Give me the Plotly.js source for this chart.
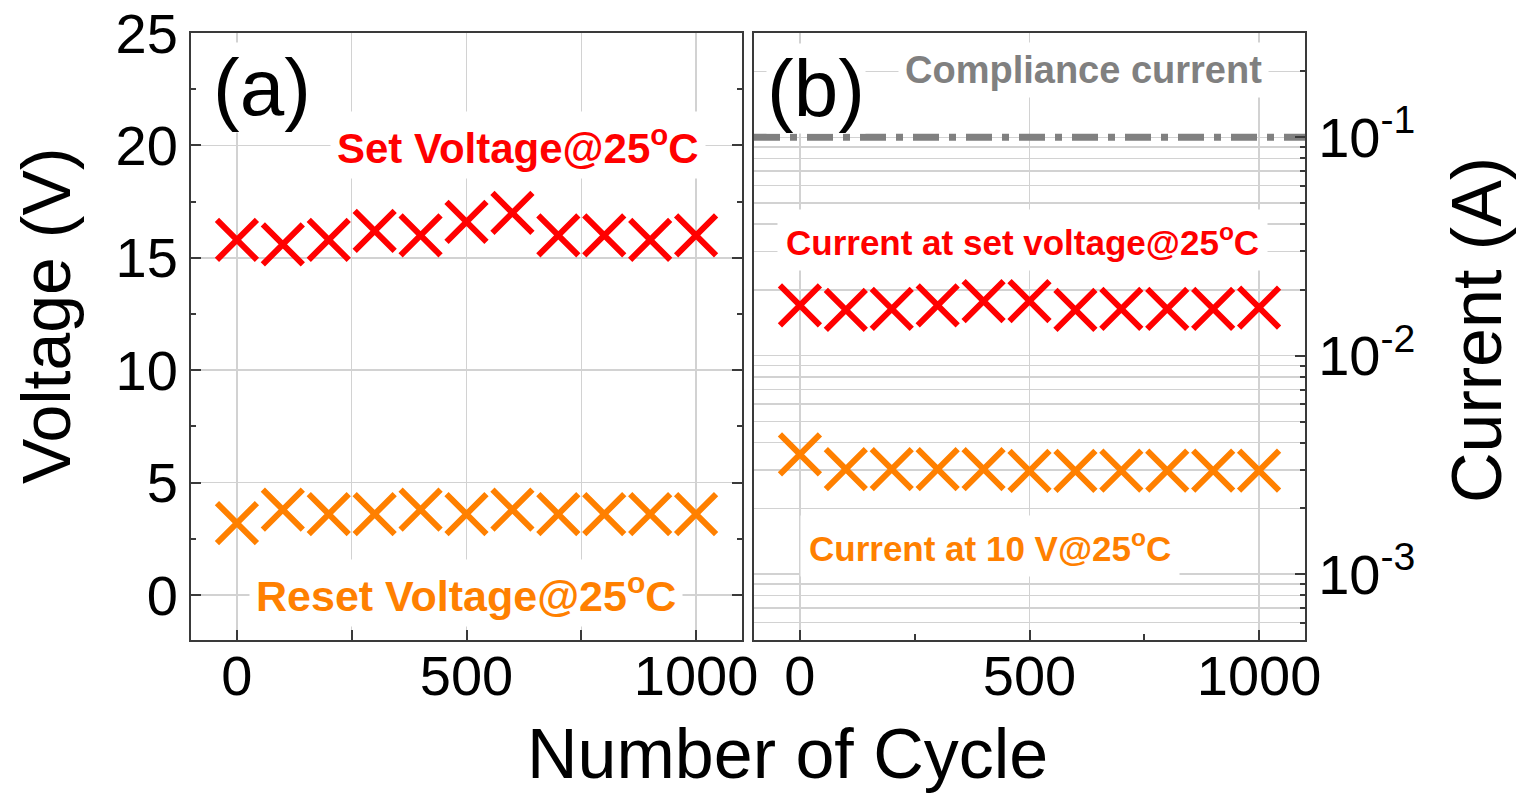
<!DOCTYPE html>
<html>
<head>
<meta charset="utf-8">
<script src="https://cdn.plot.ly/plotly-3.0.1.min.js"></script>
<style>
  html, body { margin: 0; padding: 0; background: #fff; }
  #chart { width: 1531px; height: 794px; }
</style>
</head>
<body>
<div id="chart"></div>
<script>
// Switching cycles sampled every 100 cycles
const cycles = [0, 100, 200, 300, 400, 500, 600, 700, 800, 900, 1000];

// (a) switching voltages at 25 °C (V)
const setVoltage   = [15.8, 15.6, 15.8, 16.2, 16.0, 16.6, 17.0, 16.0, 16.0, 15.8, 16.0];
const resetVoltage = [3.2, 3.8, 3.6, 3.6, 3.8, 3.6, 3.8, 3.6, 3.6, 3.6, 3.6];

// (b) currents at 25 °C (A)
const setCurrent  = [0.0170, 0.0162, 0.0164, 0.0170, 0.0178, 0.0178, 0.0162, 0.0164, 0.0164, 0.0164, 0.0166];
const readCurrent = [0.00354, 0.00303, 0.00303, 0.00303, 0.00303, 0.00297, 0.00297, 0.00298, 0.00298, 0.00298, 0.00298];
const complianceCurrent = 0.1;

// Axis ticks
const voltageTicks = [0, 5, 10, 15, 20, 25];
const cycleTicks = [0, 500, 1000];
const cycleLabels = ['0', '500', '1000'];
const cycleMinor = [250, 750];
const currentTicks = [1e-3, 1e-2, 1e-1];
const currentLabels = ['10<sup>-3</sup>', '10<sup>-2</sup>', '10<sup>-1</sup>'];
const decades = [-4, -3, -2, -1];
const digits = [2, 3, 4, 5, 6, 7, 8, 9];

// minor log ticks at 2..9 within each decade
const currentMinor = [];
decades.forEach(d => digits.forEach(k => currentMinor.push(k * Math.pow(10, d))));

const RED = '#FF0000';
const ORANGE = '#FF8000';
const GRAY = '#808080';
const AXIS = '#3a3a3a';
const GRID = '#d2d2d2';
const FONT = 'Liberation Sans, Arial, sans-serif';

function crosses(x, y, color, xa, ya) {
  return {
    x: x, y: y, xaxis: xa, yaxis: ya,
    type: 'scatter', mode: 'markers',
    marker: { symbol: 'x-thin', size: 40, color: color, line: { width: 6, color: color } },
    hoverinfo: 'x+y', showlegend: false
  };
}

const traces = [
  {
    x: [-100, 1100], y: [complianceCurrent, complianceCurrent],
    xaxis: 'x2', yaxis: 'y2', type: 'scatter', mode: 'lines',
    line: { color: GRAY, width: 7, dash: '26px,10px,7px,10px' },
    showlegend: false, hoverinfo: 'y'
  },
  crosses(cycles, setVoltage, RED, 'x', 'y'),
  crosses(cycles, resetVoltage, ORANGE, 'x', 'y'),
  crosses(cycles, setCurrent, RED, 'x2', 'y2'),
  crosses(cycles, readCurrent, ORANGE, 'x2', 'y2')
];

const yDomain = [1 - 640 / 794, 1 - 33 / 794];
const tickFont = { family: FONT, size: 56, color: '#000' };

const commonAxis = {
  showline: true, linecolor: AXIS, linewidth: 2,
  ticks: 'inside', ticklen: 10, tickwidth: 2, tickcolor: AXIS,
  showgrid: true, gridcolor: GRID, gridwidth: 1.5,
  zeroline: false, tickfont: tickFont, automargin: false
};

const layout = {
  width: 1531, height: 794,
  margin: { l: 0, r: 0, t: 0, b: 0 },
  paper_bgcolor: '#fff', plot_bgcolor: '#fff',
  showlegend: false,
  xaxis: Object.assign({}, commonAxis, {
    domain: [191 / 1531, 742 / 1531], anchor: 'y', range: [-100, 1100],
    tickmode: 'array', tickvals: cycleTicks, ticktext: cycleLabels, mirror: true,
    ticklabelstandoff: -14,
    minor: { tickmode: 'array', tickvals: cycleMinor, ticks: 'inside', ticklen: 10, tickwidth: 2, tickcolor: AXIS,
             showgrid: true, gridcolor: GRID, gridwidth: 1.5 }
  }),
  yaxis: Object.assign({}, commonAxis, {
    domain: yDomain, anchor: 'x', range: [-2, 25],
    tickmode: 'array', tickvals: voltageTicks, mirror: 'ticks',
    minor: { dtick: 2.5, ticks: 'inside', ticklen: 5, tickwidth: 2, tickcolor: AXIS, showgrid: false }
  }),
  xaxis2: Object.assign({}, commonAxis, {
    domain: [754 / 1531, 1305 / 1531], anchor: 'y2', range: [-100, 1100],
    tickmode: 'array', tickvals: cycleTicks, ticktext: cycleLabels, mirror: true,
    ticklabelstandoff: -14,
    minor: { tickmode: 'array', tickvals: cycleMinor, ticks: 'inside', ticklen: 6, tickwidth: 2, tickcolor: AXIS, showgrid: false }
  }),
  yaxis2: Object.assign({}, commonAxis, {
    domain: yDomain, anchor: 'x2', type: 'log', side: 'right',
    range: [Math.log10(5e-4), Math.log10(0.3)],
    tickmode: 'array', tickvals: currentTicks, ticktext: currentLabels, mirror: true,
    minor: { tickmode: 'array', tickvals: currentMinor, ticks: 'inside', ticklen: 5, tickwidth: 2, tickcolor: AXIS,
             showgrid: true, gridcolor: GRID, gridwidth: 1.5 }
  }),
  annotations: [
    { text: '(a)', xref: 'x', yref: 'y', x: 54, y: 22.56, showarrow: false, xanchor: 'center', yanchor: 'middle',
      font: { family: FONT, size: 80, color: '#000' }, bgcolor: '#fff', borderpad: 0 },
    { text: '(b)', xref: 'x2', yref: 'y2', x: 35, y: Math.log10(0.168), showarrow: false, xanchor: 'center', yanchor: 'middle',
      font: { family: FONT, size: 80, color: '#000' }, bgcolor: '#fff', borderpad: 0 },
    { text: '<b>Set Voltage@25<sup>o</sup>C</b>', xref: 'x', yref: 'y', x: 613, y: 20.0, showarrow: false,
      xanchor: 'center', yanchor: 'middle',
      font: { family: FONT, size: 42, color: RED }, bgcolor: '#fff', borderpad: 6 },
    { text: '<b>Reset Voltage@25<sup>o</sup>C</b>', xref: 'x', yref: 'y', x: 498, y: 0.1, showarrow: false,
      xanchor: 'center', yanchor: 'middle',
      font: { family: FONT, size: 43, color: ORANGE }, bgcolor: '#fff', borderpad: 6 },
    { text: '<b>Compliance current</b>', xref: 'x2', yref: 'y2', x: 617, y: Math.log10(0.2027), showarrow: false,
      xanchor: 'center', yanchor: 'middle',
      font: { family: FONT, size: 38, color: GRAY }, bgcolor: '#fff', borderpad: 6 },
    { text: '<b>Current at set voltage@25<sup>o</sup>C</b>', xref: 'x2', yref: 'y2', x: 484, y: Math.log10(0.0337), showarrow: false,
      xanchor: 'center', yanchor: 'middle',
      font: { family: FONT, size: 35, color: RED }, bgcolor: '#fff', borderpad: 8 },
    { text: '<b>Current at 10 V@25<sup>o</sup>C</b>', xref: 'x2', yref: 'y2', x: 414, y: Math.log10(0.00134), showarrow: false,
      xanchor: 'center', yanchor: 'middle',
      font: { family: FONT, size: 35, color: ORANGE }, bgcolor: '#fff', borderpad: 8 },
    { text: 'Voltage (V)', xref: 'paper', yref: 'paper', x: 46 / 1531, y: 1 - 316 / 794, textangle: -90,
      xanchor: 'center', yanchor: 'middle',
      showarrow: false, font: { family: FONT, size: 68, color: '#000' } },
    { text: 'Current (A)', xref: 'paper', yref: 'paper', x: 1477 / 1531, y: 1 - 330 / 794, textangle: -90,
      xanchor: 'center', yanchor: 'middle',
      showarrow: false, font: { family: FONT, size: 70, color: '#000' } },
    { text: 'Number of Cycle', xref: 'paper', yref: 'paper', x: 787 / 1531, y: 1 - 754 / 794,
      xanchor: 'center', yanchor: 'middle',
      showarrow: false, font: { family: FONT, size: 70, color: '#000' } }
  ]
};

Plotly.newPlot('chart', traces, layout, { staticPlot: true, displayModeBar: false });
</script>
</body>
</html>
